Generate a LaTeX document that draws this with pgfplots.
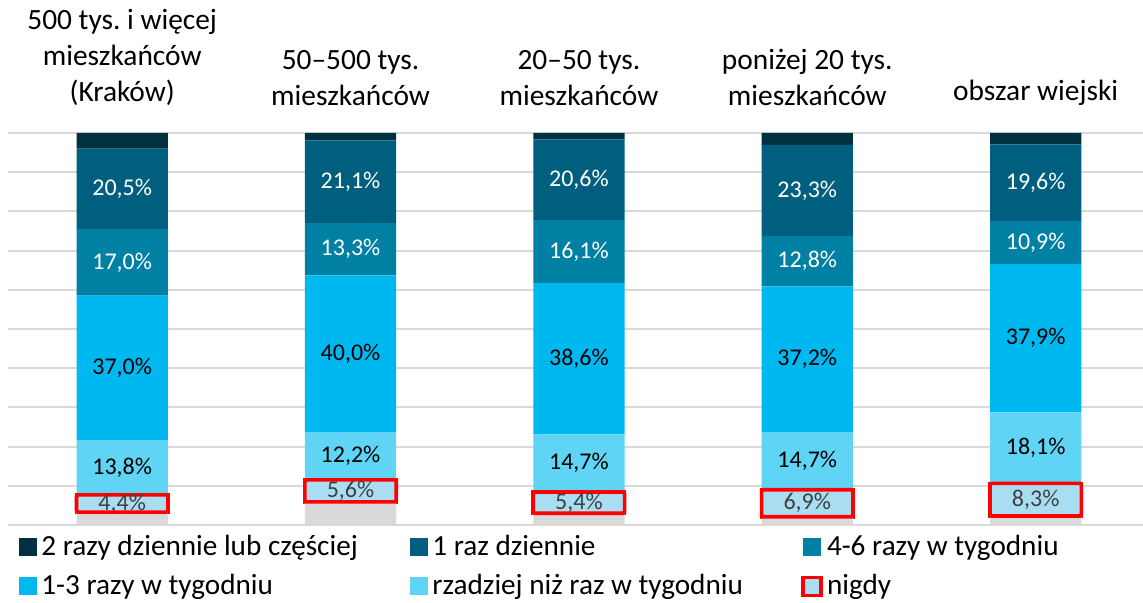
\documentclass[border=0pt]{standalone}
\usepackage{fontspec}
\setmainfont{Carlito}
\usepackage{pgfplots}
\pgfplotsset{compat=1.18}
\definecolor{c2r}{HTML}{03303F}
\definecolor{c1r}{HTML}{005F7E}
\definecolor{c46}{HTML}{0080A2}
\definecolor{c13}{HTML}{00B8F0}
\definecolor{crz}{HTML}{5FD4F5}
\definecolor{cng}{HTML}{A9DEF2}
\definecolor{cgr}{HTML}{D9D9D9}
\definecolor{gridc}{HTML}{D9D9D9}
\definecolor{nglab}{HTML}{404040}
\pgfplotsset{
  geom/.style={scale only axis, width=567.5pt, height=196pt, xmin=-0.5, xmax=4.47, ymin=0, ymax=100},
  bars/.style={geom, ybar stacked, bar width=0.4},
  lab/.style={draw=none, mark=none, point meta=explicit,
    nodes near coords={\pgfmathprintnumber[fixed,fixed zerofill,precision=1,use comma,assume math mode=true]{\pgfplotspointmeta}\%},
    nodes near coords align={center},
    every node near coord/.style={anchor=center, inner sep=0pt, font=\fontsize{12}{14}\selectfont, text=#1}},
}
\begin{document}
\frenchspacing
\begin{tikzpicture}
\begin{axis}[bars, name=main,
  axis line style={draw=none},
  tick style={draw=none},
  major tick length=0pt,
  ytick={0,10,...,100}, ymajorticks=false,
  ymajorgrids, grid style={gridc, line width=1pt},
  xtick={0,1,2,3,4},
  xticklabel pos=upper,
  xticklabels={{500 tys. i więcej\\mieszkańców\\(Kraków)}, {50–500 tys.\\mieszkańców}, {20–50 tys.\\mieszkańców}, {poniżej 20 tys.\\mieszkańców}, {obszar wiejski}},
  xticklabel style={align=center, anchor=south, yshift=10pt, font=\fontsize{14.7}{18.2}\selectfont},
  reverse legend, legend columns=3, legend cell align=left,
  legend image code/.code={\path[#1] (0pt,-4.5pt) rectangle (9pt,4.5pt);},
  legend style={draw=none, fill=none, at={(0,0)}, anchor=north west, xshift=2.5pt, yshift=-1pt, font=\fontsize{14.6}{16}\selectfont, row sep=4pt, /tikz/every even column/.append style={column sep=8.5pt}},
]
\addplot[fill=cgr, draw=none, forget plot] coordinates {(0,3.3) (1,5.9) (2,3.0) (3,2.1) (4,2.3)};
\addplot[fill=cng, draw=red, line width=1.8pt] coordinates {(0,4.4) (1,5.6) (2,5.4) (3,6.9) (4,8.3)};
\addlegendentry{nigdy}
\addplot[fill=crz, draw=none] coordinates {(0,13.8) (1,12.2) (2,14.7) (3,14.7) (4,18.1)};
\addlegendentry{\makebox[174pt][l]{rzadziej niż raz w tygodniu}}
\addplot[fill=c13, draw=none] coordinates {(0,37.0) (1,40.0) (2,38.6) (3,37.2) (4,37.9)};
\addlegendentry{\makebox[174pt][l]{1-3 razy w tygodniu}}
\addplot[fill=c46, draw=none] coordinates {(0,17.0) (1,13.3) (2,16.1) (3,12.8) (4,10.9)};
\addlegendentry{4-6 razy w tygodniu}
\addplot[fill=c1r, draw=none] coordinates {(0,20.5) (1,21.1) (2,20.6) (3,23.3) (4,19.6)};
\addlegendentry{\makebox[174pt][l]{1 raz dziennie}}
\addplot[fill=c2r, draw=none] coordinates {(0,4.0) (1,1.9) (2,1.6) (3,3.0) (4,2.9)};
\addlegendentry{\makebox[174pt][l]{2 razy dziennie lub częściej}}
\end{axis}
\begin{axis}[bars, hide axis]
\addplot[fill=none, draw=none] coordinates {(0,3.3) (1,5.9) (2,3.0) (3,2.1) (4,2.3)};
\addplot[fill=cng, draw=red, line width=1.8pt, rounded corners=0.8pt] coordinates {(0,4.4) (1,5.6) (2,5.4) (3,6.9) (4,8.3)};
\end{axis}
\begin{axis}[geom, hide axis]
% segment mid-heights (x, middle of segment, value)
\addplot[lab=nglab] table[meta=v] {
x y v
0 5.5 4.4
1 8.7 5.6
2 5.7 5.4
3 5.55 6.9
4 6.45 8.3
};
\addplot[lab=black] table[meta=v] {
x y v
0 14.6 13.8
1 17.6 12.2
2 15.75 14.7
3 16.35 14.7
4 19.65 18.1
0 40.0 37.0
1 43.7 40.0
2 42.4 38.6
3 42.3 37.2
4 47.65 37.9
};
\addplot[lab=white] table[meta=v] {
x y v
0 67.0 17.0
1 70.35 13.3
2 69.75 16.1
3 67.3 12.8
4 72.05 10.9
0 85.75 20.5
1 87.55 21.1
2 88.1 20.6
3 85.35 23.3
4 87.3 19.6
};
\end{axis}
\pgfresetboundingbox
\path[use as bounding box] ([shift={(-4pt,-39pt)}]main.south west) rectangle ([shift={(0pt,66.5pt)}]main.north east);
\end{tikzpicture}
\end{document}
